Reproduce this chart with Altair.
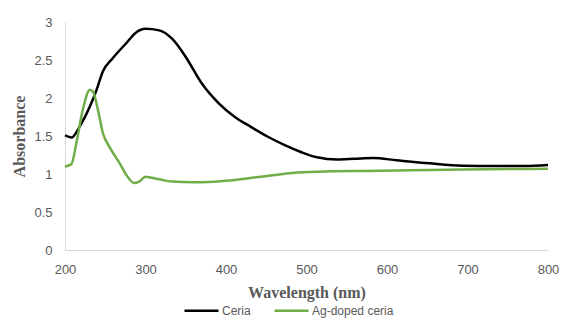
import altair as alt
import pandas as pd

ceria_wl = [200, 208, 218, 231, 239, 247, 259, 276, 288, 300, 317, 333, 350, 370, 391, 411, 431, 452, 473, 493, 513, 538, 560, 583, 612, 653, 694, 735, 770, 800]
ceria_abs = [1.51, 1.48, 1.62, 1.89, 2.1, 2.35, 2.52, 2.72, 2.86, 2.91, 2.89, 2.78, 2.54, 2.19, 1.93, 1.75, 1.62, 1.49, 1.38, 1.29, 1.22, 1.19, 1.2, 1.21, 1.18, 1.14, 1.11, 1.105, 1.105, 1.12]

ag_wl = [200, 208, 214, 222, 231, 235, 241, 247, 255, 268, 276, 286, 292, 300, 317, 333, 360, 400, 440, 489, 530, 571, 630, 694, 750, 800]
ag_abs = [1.10, 1.13, 1.40, 1.84, 2.11, 2.08, 1.84, 1.54, 1.36, 1.14, 0.99, 0.88, 0.9, 0.965, 0.93, 0.9, 0.89, 0.91, 0.96, 1.02, 1.035, 1.04, 1.05, 1.06, 1.065, 1.07]

series = ["Ceria", "Ag-doped ceria"]
colors = ["#000000", "#70AD47"]

df = pd.concat([
    pd.DataFrame({"wl": ceria_wl, "abs": ceria_abs, "s": series[0]}),
    pd.DataFrame({"wl": ag_wl, "abs": ag_abs, "s": series[1]}),
])

chart = alt.Chart(df).mark_line(strokeWidth=2.5, interpolate="monotone").encode(
    x=alt.X("wl:Q", scale=alt.Scale(domain=[200, 800], nice=False),
            axis=alt.Axis(title="Wavelength (nm)", values=[200, 300, 400, 500, 600, 700, 800],
                          grid=False, ticks=False, labelFlush=False, labelPadding=13, titlePadding=8)),
    y=alt.Y("abs:Q", scale=alt.Scale(domain=[0, 3], nice=False),
            axis=alt.Axis(title="Absorbance", values=[0, 0.5, 1, 1.5, 2, 2.5, 3], format="~g",
                          grid=False, ticks=False, labelFlush=False, labelPadding=13, titlePadding=6)),
    color=alt.Color("s:N", scale=alt.Scale(domain=series, range=colors),
                    legend=alt.Legend(title=None, orient="none", legendX=118, legendY=270,
                                      direction="horizontal",
                                      symbolType="stroke", symbolStrokeWidth=2.5, symbolSize=1156,
                                      labelFont="Liberation Sans", labelFontSize=12, labelColor="#595959",
                                      labelOffset=2, columnPadding=18)),
).properties(
    width=483, height=228,
    autosize=alt.AutoSizeParams(type="none"),
    padding={"left": 57, "top": 14, "right": 11, "bottom": 70},
).configure_view(stroke=None).configure_axis(
    labelFont="Liberation Sans", labelFontSize=13, labelColor="#595959",
    titleFont="Liberation Serif", titleFontSize=16, titleFontWeight="bold", titleColor="#595959",
    domainColor="#d9d9d9", domainWidth=1
)

chart.save("out.html", embed_options={"renderer": "svg", "actions": False})
